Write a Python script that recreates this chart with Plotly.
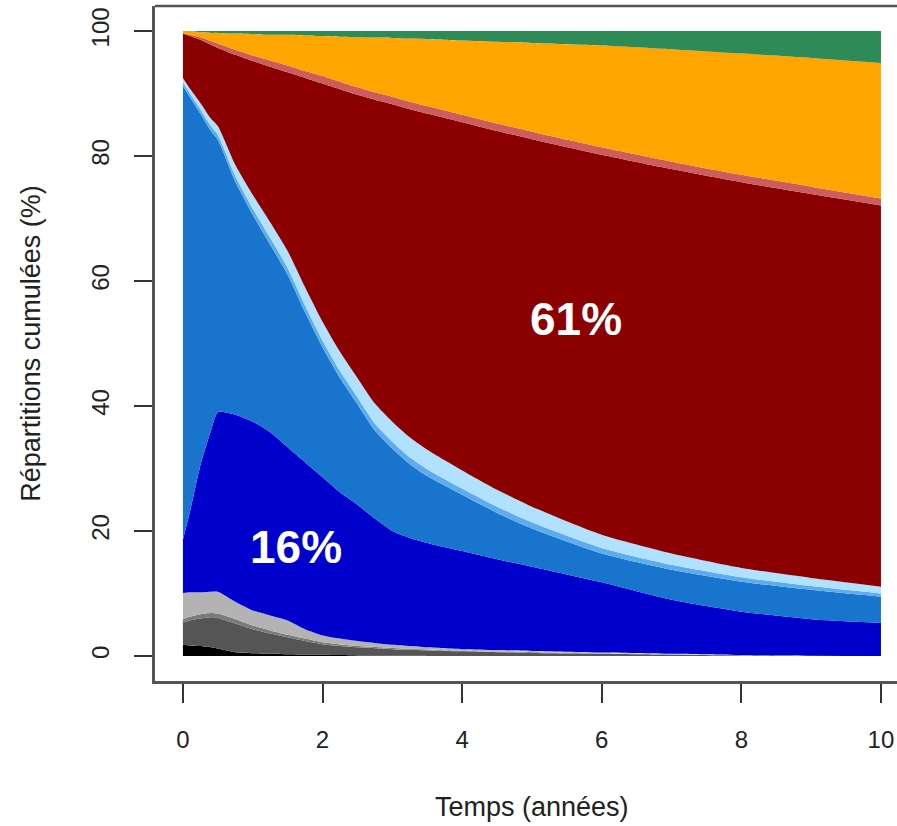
import plotly.graph_objects as go

# Temps (années)
temps = [0, 0.1, 0.25, 0.4, 0.5, 0.75, 1, 1.25, 1.5, 1.75, 2, 2.25, 2.5, 2.75,
         3, 3.25, 3.5, 4, 4.5, 5, 6, 7, 8, 9, 10]

# Répartitions cumulées (%) : limite supérieure de chaque état
noir = [1.8, 1.7, 1.6, 1.4, 1.2, 0.6, 0.45, 0.38, 0.3, 0.25, 0.2, 0.15, 0.1, 0.07,
        0.05, 0.03, 0.02, 0, 0, 0, 0, 0, 0, 0, 0]
gris_fonce = [5.4, 5.7, 6.0, 6.2, 6.1, 5.2, 4.3, 3.6, 3.0, 2.4, 1.9, 1.6, 1.4, 1.25,
              1.1, 1.0, 0.9, 0.75, 0.6, 0.5, 0.35, 0.2, 0.1, 0.05, 0.0]
gris_moyen = [5.9, 6.3, 6.7, 6.9, 6.8, 5.9, 4.9, 4.1, 3.4, 2.8, 2.2, 1.85, 1.6, 1.45,
              1.3, 1.17, 1.05, 0.85, 0.7, 0.6, 0.4, 0.25, 0.12, 0.05, 0.0]
gris_clair = [10.1, 10.2, 10.2, 10.3, 10.3, 8.7, 7.3, 6.5, 5.7, 4.3, 3.3, 2.8, 2.4, 2.1,
              1.8, 1.6, 1.4, 1.1, 0.95, 0.8, 0.55, 0.35, 0.15, 0.05, 0.0]
bleu = [18.6, 23.0, 30.5, 36.0, 39.0, 38.6, 37.5, 35.8, 33.4, 31.0, 28.6, 26.2, 24.2, 22.0,
        20.0, 18.9, 18.1, 16.8, 15.5, 14.3, 11.8, 9.0, 7.1, 5.9, 5.3]
bleu_moyen = [91.2, 89.4, 86.8, 84.0, 82.6, 75.9, 70.6, 65.8, 61.0, 55.0, 49.4, 44.5, 40.3, 36.1,
              33.2, 30.7, 28.8, 25.8, 22.9, 20.4, 16.4, 13.8, 11.9, 10.6, 9.5]
bleu_acier = [91.8, 90.0, 87.5, 84.8, 83.4, 76.8, 71.6, 66.9, 62.1, 56.1, 50.5, 45.6, 41.4, 37.2,
              34.3, 31.8, 29.9, 26.8, 23.9, 21.4, 17.3, 14.6, 12.6, 11.2, 10.0]
bleu_ciel = [92.5, 90.8, 88.5, 86.0, 84.8, 78.6, 73.8, 69.4, 64.8, 59.0, 53.5, 48.7, 44.5, 40.4,
             37.5, 35.0, 33.0, 29.7, 26.6, 23.9, 19.4, 16.4, 14.1, 12.5, 11.1]
rouge_fonce = [99.6, 99.2, 98.6, 97.8, 97.3, 96.2, 95.2, 94.3, 93.4, 92.5, 91.6, 90.7, 89.8, 89.0,
               88.3, 87.5, 86.8, 85.4, 84.0, 82.7, 80.2, 77.9, 75.8, 73.9, 72.1]
rouge_indien = [99.7, 99.4, 99.0, 98.4, 98.0, 97.0, 96.1, 95.3, 94.5, 93.6, 92.8, 91.9, 91.0, 90.2,
                89.5, 88.7, 88.0, 86.6, 85.2, 83.9, 81.4, 79.1, 77.0, 75.1, 73.2]
orange = [100, 100, 99.8, 99.7, 99.7, 99.6, 99.5, 99.4, 99.4, 99.3, 99.2, 99.1, 99.0, 98.95,
          98.9, 98.8, 98.7, 98.5, 98.3, 98.1, 97.7, 97.1, 96.4, 95.7, 94.9]
vert = [100] * len(temps)

couches = [
    (noir, "#000000"),
    (gris_fonce, "#555555"),
    (gris_moyen, "#7a7a7a"),
    (gris_clair, "#b3b3b3"),
    (bleu, "#0000CD"),
    (bleu_moyen, "#1874CD"),
    (bleu_acier, "#5CACEE"),
    (bleu_ciel, "#B0E2FF"),
    (rouge_fonce, "#8B0000"),
    (rouge_indien, "#CD5C5C"),
    (orange, "#FFA500"),
    (vert, "#2E8B57"),
]

ticks_x = [0, 2, 4, 6, 8, 10]
ticks_y = [0, 20, 40, 60, 80, 100]

police = "Liberation Sans, Arial, Helvetica, sans-serif"
taille_ticks = 24
taille_titres = 27

fig = go.Figure()
for i, (haut, couleur) in enumerate(couches):
    fig.add_trace(go.Scatter(
        x=temps, y=haut, mode="lines",
        line=dict(width=0, color=couleur, shape="spline", smoothing=0.6),
        fill="tozeroy" if i == 0 else "tonexty",
        fillcolor=couleur, hoverinfo="skip", showlegend=False,
    ))

fig.update_layout(
    width=897, height=826,
    margin=dict(l=155, r=0, t=6, b=145),
    paper_bgcolor="white", plot_bgcolor="white",
    font=dict(family=police, size=taille_ticks, color="#222222"),
    xaxis=dict(
        range=[-0.4, 10.23], tickvals=ticks_x, ticktext=[str(v) for v in ticks_x],
        ticks="outside", ticklen=19, tickwidth=1.5, tickcolor="#333333",
        showline=True, linecolor="#555555", linewidth=2.5,
        showgrid=False, zeroline=False, ticklabelstandoff=16,
        tickfont=dict(family=police, size=taille_ticks, color="#222222"),
    ),
    yaxis=dict(
        range=[-4, 104], tickvals=ticks_y, ticktext=[str(v) for v in ticks_y],
        ticks="outside", ticklen=18, tickwidth=1.5, tickcolor="#333333",
        showline=True, linecolor="#555555", linewidth=2.5,
        showgrid=False, zeroline=False, tickangle=-90, ticklabelstandoff=16,
        tickfont=dict(family=police, size=taille_ticks, color="#222222"),
    ),
    shapes=[dict(type="line", xref="paper", yref="paper", x0=0, x1=1, y0=1, y1=1,
                 line=dict(color="#555555", width=2.5))],
    annotations=[
        dict(text="Temps (années)", x=5, xref="x", y=-0.187, yref="paper",
             showarrow=False, xanchor="center", yanchor="middle",
             font=dict(family=police, size=taille_titres, color="#222222")),
        dict(text="Répartitions cumulées (%)", x=-0.168, xref="paper", y=50, yref="y",
             showarrow=False, textangle=-90, xanchor="center", yanchor="middle",
             font=dict(family=police, size=taille_titres, color="#222222")),
        dict(text="<b>61%</b>", x=5.63, y=54.0, xref="x", yref="y", showarrow=False,
             font=dict(family=police, size=46, color="white")),
        dict(text="<b>16%</b>", x=1.62, y=17.5, xref="x", yref="y", showarrow=False,
             font=dict(family=police, size=46, color="white")),
    ],
)

fig.write_html("out.html")
